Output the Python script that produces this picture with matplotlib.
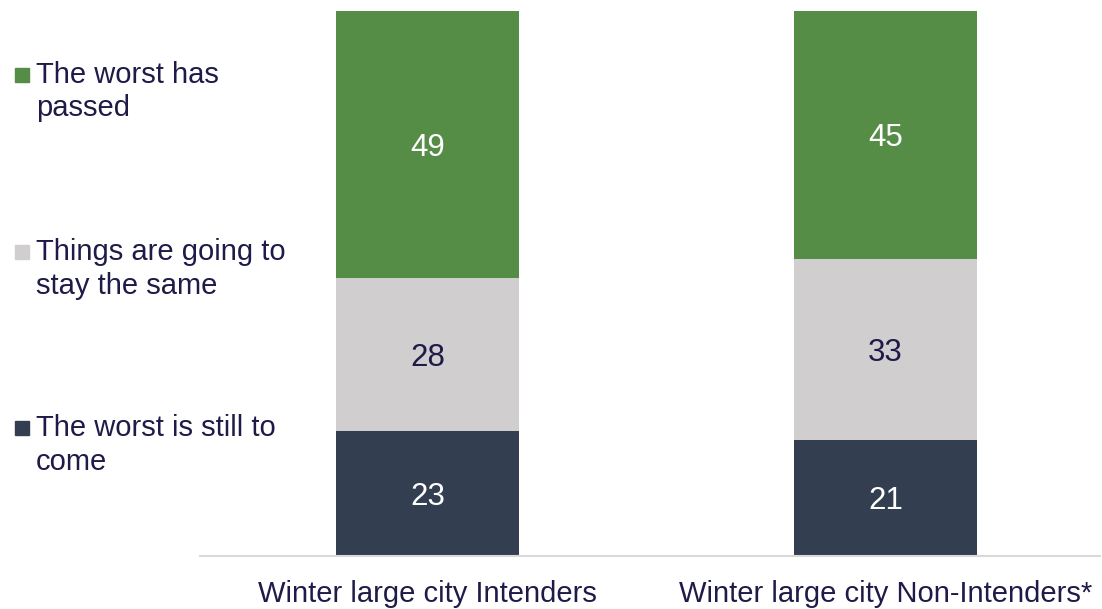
import matplotlib.pyplot as plt
import numpy as np

plt.rcParams['font.family'] = ['Liberation Sans', 'DejaVu Sans']

categories = ['Winter large city Intenders', 'Winter large city Non-Intenders*']
series_names = ['The worst is still to\ncome', 'Things are going to\nstay the same', 'The worst has\npassed']
worst_to_come = [23, 21]
stay_same = [28, 33]
worst_passed = [49, 45]

colors = ['#333F50', '#D0CECE', '#558D47']
label_colors = ['white', '#1E1B48', 'white']
text_color = '#1E1B48'
value_fs = 22.5

fig = plt.figure(figsize=(11.02, 6.09), dpi=100)
ax = fig.add_axes([200 / 1102, 1 - 556 / 609, 900 / 1102, 545 / 609])

# 100% stacked: each bar scaled to its own total
all_series = np.array([worst_to_come, stay_same, worst_passed], dtype=float)
totals = all_series.sum(axis=0)

x = np.arange(len(categories))
bottom = np.zeros(len(categories))
for vals, col, lc in zip(all_series, colors, label_colors):
    share = vals / totals * 100
    ax.bar(x, share, 0.4, bottom=bottom, color=col, zorder=2)
    for xi, b, s, v in zip(x, bottom, share, vals):
        # centre the digits themselves on the segment
        ax.annotate(str(int(v)), (xi, b + s / 2), xytext=(0, -0.358 * value_fs),
                    textcoords='offset points', ha='center', va='baseline',
                    color=lc, fontsize=value_fs)
    bottom += share

ax.set_xlim(-0.497, 1.468)
ax.set_ylim(0, 100)
ax.set_xticks(x)
ax.set_xticklabels(categories, fontsize=21, color=text_color)
ax.tick_params(axis='x', length=0, pad=17)
ax.set_yticks([])
for s in ['top', 'right', 'left']:
    ax.spines[s].set_visible(False)
ax.spines['bottom'].set_color('#D9D9D9')
ax.spines['bottom'].set_linewidth(1.5)

# legend drawn by hand on the left
legend_y = [75, 252, 428]
for name, col, ly in zip(series_names[::-1], colors[::-1], legend_y):
    fig.patches.append(plt.Rectangle((15 / 1102, 1 - (ly + 7) / 609), 14 / 1102, 14 / 609,
                                     transform=fig.transFigure, color=col))
    fig.text(36 / 1102, 1 - (ly - 14) / 609, name, ha='left', va='top',
             fontsize=21, color=text_color, linespacing=1.25)

fig.savefig('out.png', dpi=100)
